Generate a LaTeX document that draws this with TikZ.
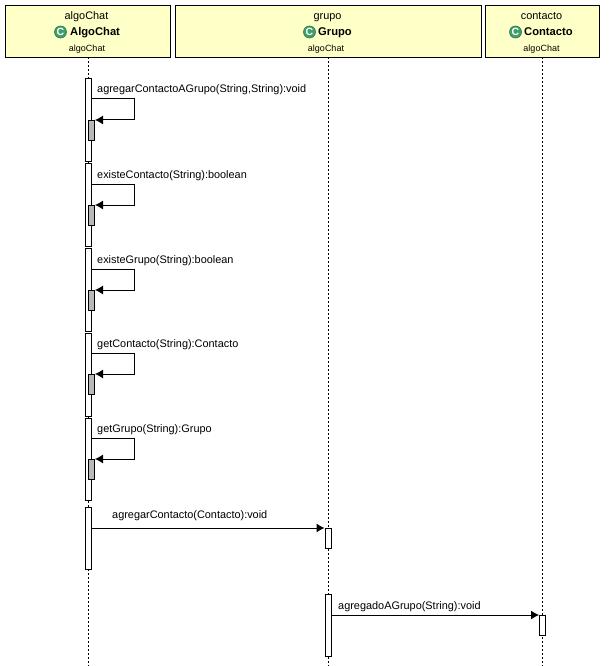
\documentclass[tikz,border=0pt]{standalone}
\usepackage{fontspec}
\setmainfont{Liberation Sans}
\usetikzlibrary{arrows.meta,calc}
\definecolor{boxfill}{HTML}{FFFFC8}
\definecolor{iconfill}{HTML}{3FA06A}
\tikzset{
  x=1pt,y=-1pt,
  head/.style={draw=black,line width=1pt,fill=boxfill,anchor=north west,inner sep=0pt,minimum height=52pt},
  life/.style={draw=black,line width=1pt,dash pattern=on 2pt off 2pt},
  act/.style={draw=black,line width=1pt,fill=white,anchor=north,inner sep=0pt,minimum width=6pt},
  inner/.style={draw=black,line width=1pt,fill=black!28,anchor=north,inner sep=0pt,minimum width=6pt,minimum height=20pt},
  msg/.style={draw=black,line width=1pt,-{Latex[length=8pt,width=9pt]}},
  lbl/.style={font=\fontsize{10.9pt}{12pt}\selectfont,anchor=base west,inner sep=0pt},
  top/.style={font=\fontsize{10.9pt}{12pt}\selectfont,anchor=base,inner sep=0pt},
  cls/.style={font=\fontsize{11.2pt}{14pt}\selectfont\bfseries,anchor=base west,inner sep=0pt},
  pkg/.style={font=\fontsize{9pt}{11pt}\selectfont,anchor=base,inner sep=0pt},
  icon/.style={circle,draw=iconfill!75!black,line width=0.6pt,fill=iconfill,minimum size=12pt,inner sep=0pt,text=white,font=\fontsize{10.5pt}{10pt}\selectfont\bfseries}
}
\begin{document}
\begin{tikzpicture}
\useasboundingbox (0,0) rectangle (609,666);
% headers
\node[head,minimum width=165pt] (hA) at (5,5) {};
\node[head,minimum width=306pt] (hG) at (175,5) {};
\node[head,minimum width=114pt] (hC) at (485,5) {};
\node[top] (tA) at (86.5,20) {algoChat};
\node[top] (tG) at (327.5,20) {grupo};
\node[top] (tC) at (541.5,20) {contacto};
\node[icon] (iA) at (60.5,32) {C};
\node[icon] (iG) at (309.5,32) {C};
\node[icon] (iC) at (515.5,32) {C};
\node[cls] (cA) at (70,36) {AlgoChat};
\node[cls] (cG) at (318,36) {Grupo};
\node[cls] (cC) at (524,36) {Contacto};
\node[pkg] (pA) at (87,51.5) {algoChat};
\node[pkg] (pG) at (326,51.5) {algoChat};
\node[pkg] (pC) at (541.5,51.5) {algoChat};
% lifelines
\coordinate (eA) at (88,666);
\coordinate (eG) at (328,666);
\coordinate (eC) at (542.5,666);
\draw[life] (88,57) -- (eA);
\draw[life] (328,57) -- (eG);
\draw[life] (542.5,57) -- (eC);
% activations
\node[act,minimum height=83pt] (a1) at (88,78) {};
\node[act,minimum height=83pt] (a2) at (88,163) {};
\node[act,minimum height=83pt] (a3) at (88,248) {};
\node[act,minimum height=83pt] (a4) at (88,333) {};
\node[act,minimum height=82pt] (a5) at (88,418) {};
\node[act,minimum height=62pt] (a6) at (88,507) {};
\node[act,minimum height=20pt] (g1) at (328,528) {};
\node[act,minimum height=62pt] (g2) at (328,594) {};
\node[act,minimum height=20pt] (c1) at (542.5,615) {};
% nested activations
\node[inner] (s1) at (91,120) {};
\node[inner] (s2) at (91,205) {};
\node[inner] (s3) at (91,290) {};
\node[inner] (s4) at (91,374) {};
\node[inner] (s5) at (91,459) {};
% self messages
\draw[msg] ($(a1.north east)+(0,21)$) -- ++(43,0) |- ($(s1.north east)+(0.5,0)$);
\draw[msg] ($(a2.north east)+(0,21)$) -- ++(43,0) |- ($(s2.north east)+(0.5,0)$);
\draw[msg] ($(a3.north east)+(0,21)$) -- ++(43,0) |- ($(s3.north east)+(0.5,0)$);
\draw[msg] ($(a4.north east)+(0,20)$) -- ++(43,0) |- ($(s4.north east)+(0.5,0)$);
\draw[msg] ($(a5.north east)+(0,20)$) -- ++(43,0) |- ($(s5.north east)+(0.5,0)$);
% calls
\draw[msg] (a6.east |- g1.north west) -- (g1.north west);
\draw[msg] (g2.east |- c1.north west) -- (c1.north west);
% labels
\node[lbl] (m1) at (97,92.5) {agregarContactoAGrupo(String,String):void};
\node[lbl] (m2) at (97,178) {existeContacto(String):boolean};
\node[lbl] (m3) at (97,263) {existeGrupo(String):boolean};
\node[lbl] (m4) at (97,347) {getContacto(String):Contacto};
\node[lbl] (m5) at (97,432) {getGrupo(String):Grupo};
\node[lbl] (m6) at (112,518) {agregarContacto(Contacto):void};
\node[lbl] (m7) at (338,609) {agregadoAGrupo(String):void};
\end{tikzpicture}
\end{document}
